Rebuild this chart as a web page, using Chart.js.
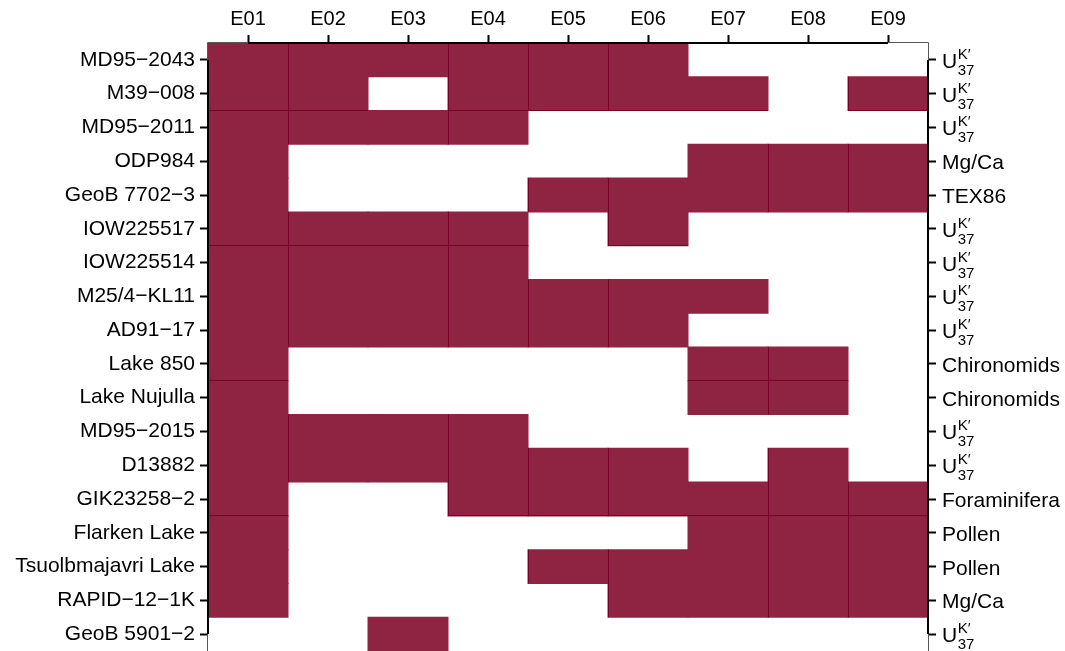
<!DOCTYPE html>
<html>
<head>
<meta charset="utf-8">
<script src="https://cdn.jsdelivr.net/npm/chart.js@4/dist/chart.umd.min.js"></script>
<style>
  html, body { margin: 0; padding: 0; background: #ffffff; }
  #wrap { width: 1065px; height: 651px; position: relative; }
</style>
</head>
<body>
<div id="wrap"><canvas id="grid"></canvas></div>
<script>
// Experiments along the top
const experiments = ['E01', 'E02', 'E03', 'E04', 'E05', 'E06', 'E07', 'E08', 'E09'];

// Records down the left side
const records = [
  'MD95\u22122043', 'M39\u2212008', 'MD95\u22122011', 'ODP984', 'GeoB 7702\u22123',
  'IOW225517', 'IOW225514', 'M25/4\u2212KL11', 'AD91\u221217', 'Lake 850',
  'Lake Nujulla', 'MD95\u22122015', 'D13882', 'GIK23258\u22122', 'Flarken Lake',
  'Tsuolbmajavri Lake', 'RAPID\u221212\u22121K', 'GeoB 5901\u22122'
];

// Proxy of each record, shown on the right ('UK37' = alkenone index)
const proxies = [
  'UK37', 'UK37', 'UK37', 'Mg/Ca', 'TEX86',
  'UK37', 'UK37', 'UK37', 'UK37', 'Chironomids',
  'Chironomids', 'UK37', 'UK37', 'Foraminifera', 'Pollen',
  'Pollen', 'Mg/Ca', 'UK37'
];

// 1 = record used in that experiment
const coverage = [
  [1, 1, 1, 1, 1, 1, 0, 0, 0],
  [1, 1, 0, 1, 1, 1, 1, 0, 1],
  [1, 1, 1, 1, 0, 0, 0, 0, 0],
  [1, 0, 0, 0, 0, 0, 1, 1, 1],
  [1, 0, 0, 0, 1, 1, 1, 1, 1],
  [1, 1, 1, 1, 0, 1, 0, 0, 0],
  [1, 1, 1, 1, 0, 0, 0, 0, 0],
  [1, 1, 1, 1, 1, 1, 1, 0, 0],
  [1, 1, 1, 1, 1, 1, 0, 0, 0],
  [1, 0, 0, 0, 0, 0, 1, 1, 0],
  [1, 0, 0, 0, 0, 0, 1, 1, 0],
  [1, 1, 1, 1, 0, 0, 0, 0, 0],
  [1, 1, 1, 1, 1, 1, 0, 1, 0],
  [1, 0, 0, 1, 1, 1, 1, 1, 1],
  [1, 0, 0, 0, 0, 0, 1, 1, 1],
  [1, 0, 0, 0, 1, 1, 1, 1, 1],
  [1, 0, 0, 0, 0, 1, 1, 1, 1],
  [0, 0, 1, 0, 0, 0, 0, 0, 0]
];

// Tile seams: columns whose tiles show a left edge line, rows whose tiles show a bottom edge line
const seamColumns = [1, 3, 4, 5, 7, 8];
const seamRows = [1, 5, 9, 13];

const FILL = '#8f2342';
const SEAM = '#7a0029';
const FONT = "'Liberation Sans', Arial, Helvetica, sans-serif";

const datasets = experiments.map((name, c) => ({
  label: name,
  data: coverage.map(row => row[c] ? [c + 0.5, c + 1.5] : null),
  backgroundColor: FILL,
  borderWidth: 0,
  inflateAmount: 0.5,
  barPercentage: 1,
  categoryPercentage: 1,
  grouped: false
}));

// Seam lines, frame, axis lines and the proxy labels on the right
const frame = {
  id: 'frame',
  afterDatasetsDraw(chart) {
    const { ctx, chartArea: a, scales: { x, y } } = chart;
    ctx.save();

    // seam lines on the tiles
    ctx.fillStyle = SEAM;
    chart.data.datasets.forEach((ds, c) => {
      const meta = chart.getDatasetMeta(c);
      meta.data.forEach((bar, r) => {
        if (!ds.data[r]) return;
        const left = x.getPixelForValue(ds.data[r][0]);
        const right = x.getPixelForValue(ds.data[r][1]);
        const top = bar.y - bar.height / 2;
        const bottom = bar.y + bar.height / 2;
        if (seamColumns.includes(c)) ctx.fillRect(Math.round(left), top, 1, bottom - top);
        if (seamRows.includes(r)) ctx.fillRect(left, Math.round(bottom) - 1, right - left, 1);
      });
    });

    ctx.strokeStyle = '#555555';
    ctx.lineWidth = 1;
    ctx.beginPath();
    ctx.moveTo(a.left - 0.5, chart.height + 5);
    ctx.lineTo(a.left - 0.5, a.top - 0.5);
    ctx.lineTo(a.right + 0.5, a.top - 0.5);
    ctx.lineTo(a.right + 0.5, chart.height + 5);
    ctx.stroke();

    ctx.strokeStyle = '#000000';
    ctx.lineWidth = 2;
    const y0 = y.getPixelForValue(0);
    const y1 = y.getPixelForValue(records.length - 1);
    ctx.beginPath();
    ctx.moveTo(a.left, y0); ctx.lineTo(a.left, y1);
    ctx.moveTo(a.right, y0); ctx.lineTo(a.right, y1);
    ctx.moveTo(x.getPixelForValue(1), a.top); ctx.lineTo(x.getPixelForValue(experiments.length), a.top);
    ctx.stroke();

    ctx.fillStyle = '#000000';
    ctx.textAlign = 'left';
    ctx.textBaseline = 'alphabetic';
    const x0 = a.right + 14;
    proxies.forEach((p, i) => {
      const yc = y.getPixelForValue(i);
      if (p === 'UK37') {
        ctx.font = '21px ' + FONT;
        ctx.fillText('U', x0, yc + 8);
        const w = ctx.measureText('U').width;
        ctx.font = '15px ' + FONT;
        ctx.fillText('K\u2032', x0 + w + 0.5, yc - 1);
        ctx.fillText('37', x0 + w + 0.5, yc + 15);
      } else {
        ctx.font = '21px ' + FONT;
        ctx.fillText(p, x0, yc + 8);
      }
    });
    ctx.restore();
  }
};

const tickGrid = {
  display: true,
  drawOnChartArea: false,
  drawTicks: true,
  tickLength: 8,
  tickWidth: 2,
  tickColor: '#000000',
  offset: false
};

const noPadding = s => {
  s.paddingTop = 0; s.paddingBottom = 0; s.paddingLeft = 0; s.paddingRight = 0;
};

new Chart(document.getElementById('grid'), {
  type: 'bar',
  data: { labels: records, datasets },
  options: {
    indexAxis: 'y',
    responsive: true,
    maintainAspectRatio: false,
    animation: false,
    events: [],
    layout: { padding: 0 },
    plugins: { legend: { display: false }, tooltip: { enabled: false }, title: { display: false } },
    scales: {
      x: {
        type: 'linear',
        position: 'top',
        min: 0.5,
        max: experiments.length + 0.5,
        afterBuildTicks: s => { s.ticks = experiments.map((_, i) => ({ value: i + 1 })); },
        afterFit: s => { s.height = 43; noPadding(s); },
        ticks: {
          autoSkip: false,
          maxRotation: 0,
          padding: 4,
          color: '#000000',
          font: { family: FONT, size: 20 },
          callback: v => experiments[v - 1]
        },
        grid: { ...tickGrid },
        border: { display: false }
      },
      y: {
        type: 'category',
        position: 'left',
        offset: true,
        afterFit: s => { s.width = 208; noPadding(s); },
        ticks: {
          autoSkip: false,
          padding: 5,
          color: '#000000',
          font: { family: FONT, size: 21 }
        },
        grid: { ...tickGrid },
        border: { display: false }
      },
      y2: {
        type: 'category',
        position: 'right',
        labels: proxies,
        offset: true,
        afterFit: s => { s.width = 137; noPadding(s); },
        ticks: { autoSkip: false, callback: () => '' },
        grid: { ...tickGrid },
        border: { display: false }
      }
    }
  },
  plugins: [frame]
});
</script>
</body>
</html>
